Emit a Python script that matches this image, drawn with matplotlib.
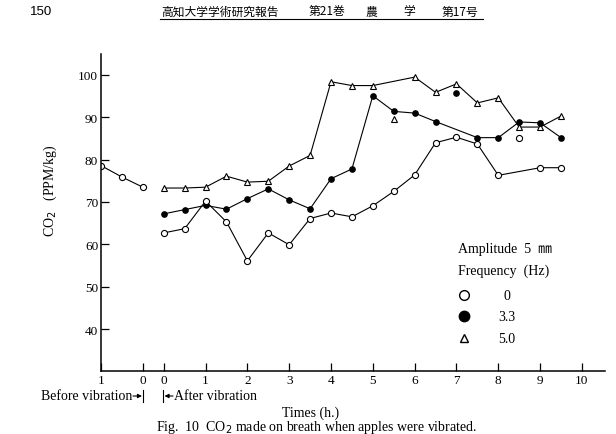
import numpy as np
import matplotlib
matplotlib.use('Agg')
import matplotlib.pyplot as plt

plt.rcParams['font.family'] = ['Liberation Serif', 'DejaVu Serif']

# before vibration (hours before start, open circles only)
before_h = [1.0, 0.5, 0.0]
before_v = [78.6, 75.9, 73.5]

# after vibration
t_open = [0, 0.5, 1, 1.5, 2, 2.5, 3, 3.5, 4, 4.5, 5, 5.5, 6, 6.5, 7, 7.5, 8, 9, 9.5]
v_open = [62.7, 63.7, 70.2, 65.3, 56.1, 62.7, 59.9, 66.1, 67.4, 66.5, 69.1, 72.5,
          76.4, 84.0, 85.3, 83.7, 76.3, 78.1, 78.1]
t_open_extra = [8.5]
v_open_extra = [85.2]

t_filled = [0, 0.5, 1, 1.5, 2, 2.5, 3, 3.5, 4, 4.5, 5, 5.5, 6, 6.5, 7.5, 8, 8.5, 9, 9.5]
v_filled = [67.2, 68.2, 69.2, 68.3, 70.8, 73.1, 70.5, 68.4, 75.5, 77.8, 95.1, 91.4,
            91.0, 89.0, 85.2, 85.2, 88.9, 88.7, 85.2]
t_filled_extra = [7]
v_filled_extra = [95.8]

t_tri = [0, 0.5, 1, 1.5, 2, 2.5, 3, 3.5, 4, 4.5, 5, 6, 6.5, 7, 7.5, 8, 8.5, 9, 9.5]
v_tri = [73.3, 73.3, 73.5, 76.1, 74.7, 74.9, 78.5, 81.0, 98.4, 97.5, 97.5, 99.5,
         95.9, 97.9, 93.4, 94.6, 87.7, 87.7, 90.3]
t_tri_extra = [5.5]
v_tri_extra = [89.6]

before_ticks = [1, 0]
after_ticks = list(range(0, 11))
y_ticks = [40, 50, 60, 70, 80, 90, 100]

freq_labels = ['0', '3.3', '5.0']

# before-vibration hours are drawn left of the after-vibration origin
def before_x(h):
    return -0.5 - np.asarray(h, dtype=float)

def fx(px):
    return px / 616

def fy(py):
    return 1 - py / 435

fig = plt.figure(figsize=(6.16, 4.35), dpi=100)
ax = fig.add_axes([0.164, 0.144, 0.818, 0.730])

lw = 0.8
ax.plot(before_x(before_h), before_v, '-o', color='black', lw=lw, ms=4.4,
        mfc='white', mec='black', mew=0.8)
ax.plot(t_tri, v_tri, '-^', color='black', lw=lw, ms=4.8,
        mfc='white', mec='black', mew=0.8)
ax.plot(t_filled, v_filled, '-o', color='black', lw=lw, ms=3.8,
        mfc='black', mec='black')
ax.plot(t_open, v_open, '-o', color='black', lw=lw, ms=4.4,
        mfc='white', mec='black', mew=0.8)
ax.plot(t_tri_extra, v_tri_extra, '^', ms=4.8, mfc='white', mec='black', mew=0.8)
ax.plot(t_filled_extra, v_filled_extra, 'o', ms=3.8, mfc='black', mec='black')
ax.plot(t_open_extra, v_open_extra, 'o', ms=4.4, mfc='white', mec='black', mew=0.8)

ax.set_xlim(-1.5, 10.55)
ax.set_ylim(30, 105)
ax.spines['top'].set_visible(False)
ax.spines['right'].set_visible(False)
ax.spines['left'].set_linewidth(1.1)
ax.spines['bottom'].set_linewidth(1.1)

xt = list(before_x(before_ticks)) + after_ticks
xl = [str(h) for h in before_ticks] + [str(t) for t in after_ticks]
ax.set_xticks(xt)
ax.set_xticklabels(xl, fontsize=9.5)
ax.set_yticks(y_ticks)
ax.set_yticklabels([str(v) for v in y_ticks], fontsize=9.5)
ax.tick_params(direction='in', length=6, width=0.9, pad=2)

ax.text(-2.72, 73.0, 'CO$_2$   (PPM/kg)', rotation=90, ha='center', va='center',
        fontsize=10)

# legend block
ax.text(7.04, 59.0, 'Amplitude  5  ㎜', fontsize=10, va='center',
        family=['Liberation Serif', 'Noto Sans CJK JP'])
ax.text(7.04, 53.8, 'Frequency  (Hz)', fontsize=10, va='center')
ax.plot([7.18], [48.0], 'o', ms=7, mfc='white', mec='black', mew=1.0)
ax.plot([7.18], [43.0], 'o', ms=7.5, mfc='black', mec='black')
ax.plot([7.18], [37.8], '^', ms=6, mfc='white', mec='black', mew=1.0)
for yv, lab in zip([48.0, 43.0, 37.8], freq_labels):
    ax.text(8.2, yv, lab, fontsize=10, va='center', ha='center')

# before / after markers under the axis
yb = fy(397)
fig.text(fx(132), yb, 'Before vibration', ha='right', va='center', fontsize=10)
fig.text(fx(174), yb, 'After vibration', ha='left', va='center', fontsize=10)
ax.annotate('', xy=(fx(142), yb), xytext=(fx(133), yb), xycoords='figure fraction',
            arrowprops=dict(arrowstyle='-|>', color='black', lw=0.8, mutation_scale=6,
                            shrinkA=0, shrinkB=0))
ax.annotate('', xy=(fx(164.5), yb), xytext=(fx(173), yb), xycoords='figure fraction',
            arrowprops=dict(arrowstyle='-|>', color='black', lw=0.8, mutation_scale=6,
                            shrinkA=0, shrinkB=0))
fig.add_artist(plt.Line2D([fx(143), fx(143)], [fy(391), fy(403)], color='black', lw=0.8))
fig.add_artist(plt.Line2D([fx(163), fx(163)], [fy(391), fy(403)], color='black', lw=0.8))

fig.text(fx(311), fy(413), 'Times (h.)', ha='center', va='center', fontsize=10)
fig.text(fx(317), fy(428), 'Fig.  10  CO$_2$ made on breath when apples were vibrated.',
         ha='center', va='center', fontsize=10)

# page header
fig.text(fx(30), fy(12), '150', ha='left', va='center', fontsize=9.5,
         family=['Liberation Sans', 'DejaVu Sans'])
jp = ['Noto Sans CJK JP', 'DejaVu Sans']
fig.text(fx(161), fy(12), '高知大学学術研究報告', ha='left', va='center', fontsize=8.5, family=jp)
fig.text(fx(309), fy(12), '第21巻', ha='left', va='center', fontsize=8.5, family=jp)
fig.text(fx(371), fy(12), '農', ha='center', va='center', fontsize=8.5, family=jp)
fig.text(fx(409), fy(12), '学', ha='center', va='center', fontsize=8.5, family=jp)
fig.text(fx(442), fy(12), '第17号', ha='left', va='center', fontsize=8.5, family=jp)
fig.add_artist(plt.Line2D([fx(160), fx(483)], [fy(19.5), fy(19.5)], color='black', lw=0.8))

fig.savefig('out.png', dpi=100)
